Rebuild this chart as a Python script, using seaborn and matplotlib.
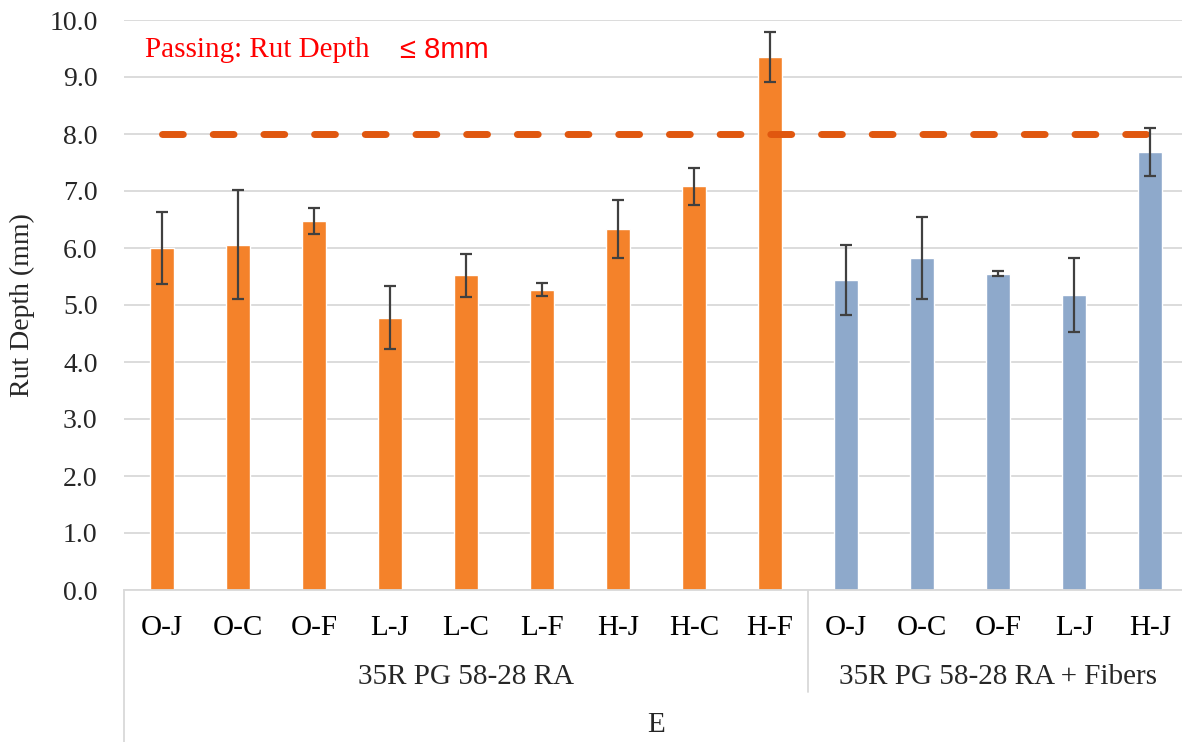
import numpy as np
import pandas as pd
import matplotlib
matplotlib.use("Agg")
import matplotlib.pyplot as plt
import matplotlib.transforms as mtransforms
import seaborn as sns

# ---------------- data ----------------
mixes = ["O-J", "O-C", "O-F", "L-J", "L-C", "L-F", "H-J", "H-C", "H-F",
         "O-J", "O-C", "O-F", "L-J", "H-J"]
groups = ["35R PG 58-28 RA"] * 9 + ["35R PG 58-28 RA + Fibers"] * 5
rut_depth = [6.00, 6.06, 6.47, 4.78, 5.52, 5.27, 6.33, 7.08, 9.35,
             5.44, 5.83, 5.55, 5.17, 7.68]
rut_err = [0.63, 0.95, 0.23, 0.55, 0.38, 0.12, 0.51, 0.32, 0.44,
           0.61, 0.72, 0.04, 0.65, 0.42]
group_names = ["35R PG 58-28 RA", "35R PG 58-28 RA + Fibers"]
outer_label = "E"
pass_limit = 8.0
y_ticks = [0, 1, 2, 3, 4, 5, 6, 7, 8, 9, 10]

# ---------------- style ----------------
sns.set_style("white")
plt.rcParams["font.family"] = ["Liberation Serif", "DejaVu Serif"]

keys = [f"{i}_{m}" for i, m in enumerate(mixes)]
df = pd.DataFrame({"key": keys, "mix": mixes, "group": groups,
                   "depth": rut_depth, "err": rut_err})

W, H = 1182, 742
fig = plt.figure(figsize=(W / 100, H / 100), dpi=100)
ax_l, ax_b, ax_t = 124, 590, 20
ax = fig.add_axes([ax_l / W, (H - ax_b) / H, 1 - ax_l / W, (ax_b - ax_t) / H])

orange = "#F4822A"
blue = "#8EA9CB"
sns.barplot(data=df, x="key", y="depth", hue="group", order=keys,
            hue_order=group_names, palette=[orange, blue], width=0.32,
            dodge=False, saturation=1, errorbar=None, legend=False,
            ax=ax, zorder=2)

xpos = np.arange(len(keys))
# threshold line
sns.lineplot(x=xpos, y=[pass_limit] * len(keys), ax=ax, color="#E0570F",
             lw=5, dashes=False, zorder=3, legend=False)
line = ax.lines[-1]
line.set_dashes((3, 4.3))
line.set_dash_capstyle("round")

ax.errorbar(xpos, rut_depth, yerr=rut_err, fmt="none", ecolor="#404040",
            elinewidth=1.6, capsize=4.5, capthick=1.6, zorder=4)

ax.set_xlim(-0.5, 13.42)
ax.set_ylim(0, 10)
ax.set_yticks(y_ticks)
ax.set_yticklabels([f"{v:.1f}" for v in y_ticks], fontsize=20)
ax.tick_params(axis="y", length=0, pad=19)
ax.set_xticks([])
ax.set_xlabel("")
ax.set_ylabel("")
ax.yaxis.grid(True, color="#D9D9D9", lw=1.3, zorder=0)
ax.set_axisbelow(True)
for s in ["top", "right", "left"]:
    ax.spines[s].set_visible(False)
ax.spines["bottom"].set_color("#D9D9D9")
ax.spines["bottom"].set_linewidth(1.3)

ax_h = ax_b - ax_t
def fy(px_below):
    return -px_below / ax_h

trans = mtransforms.blended_transform_factory(ax.transData, ax.transAxes)
for x, m in zip(xpos, mixes):
    ax.text(x, fy(38), m, transform=trans, ha="center", va="center",
            fontsize=21, color="#000000")

n1 = groups.count(group_names[0])
ax.text((-0.5 + n1 - 0.5) / 2, fy(87), group_names[0], transform=trans,
        ha="center", va="center", fontsize=21)
ax.text((n1 - 0.5 + 13.5) / 2, fy(87), group_names[1], transform=trans,
        ha="center", va="center", fontsize=21)
ax.text((-0.5 + 13.5) / 2, fy(135), outer_label, transform=trans,
        ha="center", va="center", fontsize=21)

# category separators below axis
ax.plot([-0.5, -0.5], [0, fy(160)], transform=trans, color="#D9D9D9",
        lw=1.3, clip_on=False)
ax.plot([n1 - 0.5, n1 - 0.5], [0, fy(102)], transform=trans, color="#D9D9D9",
        lw=1.3, clip_on=False)

fig.text(22 / W, 1 - 305 / H, "Rut Depth (mm)", rotation=90, ha="center",
         va="center", fontsize=20)

ax.text(145 / W, 1 - 50 / H, "Passing: Rut Depth", transform=fig.transFigure,
        ha="left", va="center", fontsize=21, color="#FF0000")
ax.text(400 / W, 1 - 50 / H, "\u2264 8mm", transform=fig.transFigure,
        ha="left", va="center", fontsize=21, color="#FF0000",
        family=["Liberation Sans Narrow", "Liberation Sans", "DejaVu Sans"])

fig.savefig("out.png", dpi=100)
